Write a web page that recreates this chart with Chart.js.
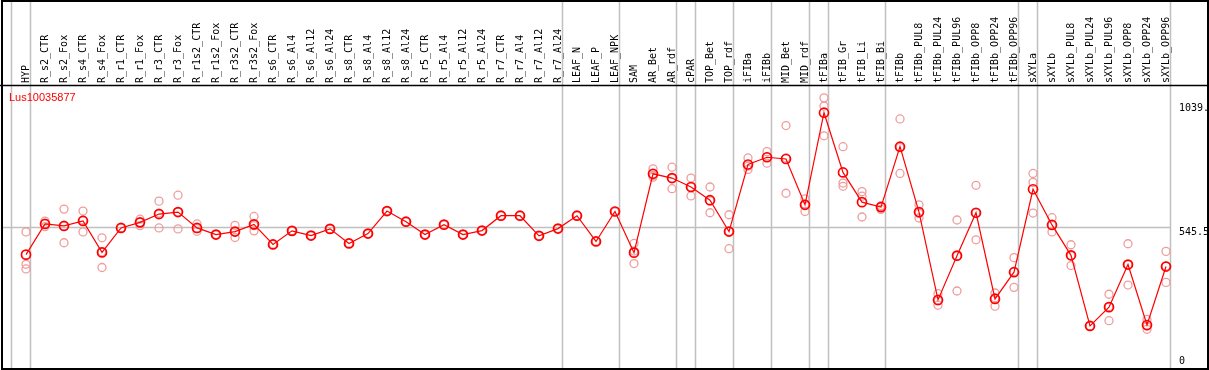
<!DOCTYPE html>
<html>
<head>
<meta charset="utf-8">
<script src="https://cdn.jsdelivr.net/npm/chart.js@4.4.1/dist/chart.umd.min.js"></script>
<style>
  html, body { margin: 0; padding: 0; background: #fff; }
  canvas { display: block; }
</style>
</head>
<body>
<canvas id="geneChart" width="1209" height="370"></canvas>
<script>
// sample names, one column each
var categories = ["HYP", "R_s2_CTR", "R_s2_Fox", "R_s4_CTR", "R_s4_Fox", "R_r1_CTR", "R_r1_Fox",
  "R_r3_CTR", "R_r3_Fox", "R_r1s2_CTR", "R_r1s2_Fox", "R_r3s2_CTR", "R_r3s2_Fox", "R_s6_CTR",
  "R_s6_Al4", "R_s6_Al12", "R_s6_Al24", "R_s8_CTR", "R_s8_Al4", "R_s8_Al12", "R_s8_Al24",
  "R_r5_CTR", "R_r5_Al4", "R_r5_Al12", "R_r5_Al24", "R_r7_CTR", "R_r7_Al4", "R_r7_Al12",
  "R_r7_Al24", "LEAF_N", "LEAF_P", "LEAF_NPK", "SAM", "AR_Bet", "AR_rdf", "cPAR", "TOP_Bet",
  "TOP_rdf", "iFIBa", "iFIBb", "MID_Bet", "MID_rdf", "tFIBa", "tFIB_Gr", "tFIB_Li", "tFIB_Bi",
  "tFIBb", "tFIBb_PUL8", "tFIBb_PUL24", "tFIBb_PUL96", "tFIBb_OPP8", "tFIBb_OPP24", "tFIBb_OPP96",
  "sXYLa", "sXYLb", "sXYLb_PUL8", "sXYLb_PUL24", "sXYLb_PUL96", "sXYLb_OPP8", "sXYLb_OPP24",
  "sXYLb_OPP96"];

// mean expression (joined line)
var meanValues = [435.0, 557.3, 549.4, 569.2, 444.0, 541.5, 563.6, 596.8, 604.7, 541.5, 515.1,
  526.9, 555.7, 475.6, 529.7, 511.1, 537.6, 479.6, 519.0, 608.6, 566.4, 515.1, 554.5, 515.1,
  530.9, 590.1, 590.1, 510.0, 538.8, 590.1, 487.5, 607.0, 442.9, 757.0, 740.1, 704.5, 652.0,
  526.9, 794.1, 823.0, 816.2, 633.5, 1000.6, 762.6, 644.2, 624.4, 865.2, 604.7, 254.6, 431.0,
  601.9, 258.5, 365.1, 695.5, 553.4, 432.2, 150.8, 225.8, 395.5, 154.7, 387.6];

// replicates (light circles)
var rep1 = [525.7, 568.4, 616.5, 608.6, 502.1, 541.5, 576.3, 648.1, 671.8, 557.3, 515.1,
  551.8, 587.3, 475.6, 529.7, 511.1, 537.6, 479.6, 519.0, 608.6, 566.4, 515.1, 554.5, 515.1,
  530.9, 590.1, 590.1, 510.0, 538.8, 590.1, 487.5, 607.0, 479.6, 776.8, 783.5, 740.1, 704.5,
  594.0, 820.2, 845.5, 949.3, 657.2, 1059.8, 865.2, 686.0, 630.7, 975.7, 633.5, 279.4, 573.1,
  711.3, 282.2, 423.1, 758.6, 582.2, 474.4, 150.8, 277.1, 478.4, 176.8, 448.0];
var rep2 = [396.7, 558.5, 549.0, 573.1, 446.4, 541.5, 563.6, 600.7, 604.7, 538.8, 515.1,
  525.7, 550.6, 475.6, 529.7, 511.1, 537.6, 479.6, 519.0, 608.6, 566.4, 515.1, 554.5, 515.1,
  530.9, 590.1, 590.1, 510.0, 538.8, 590.1, 487.5, 607.0, 449.2, 750.7, 738.9, 704.5, 649.3,
  528.1, 787.4, 824.1, 820.2, 636.3, 1027.0, 720.3, 667.8, 626.8, 861.2, 599.2, 250.6, 429.4,
  600.3, 263.7, 367.5, 723.1, 551.8, 430.6, 150.8, 228.1, 393.9, 149.6, 390.0];
var rep3 = [378.1, 546.7, 482.3, 525.7, 383.7, 541.5, 550.6, 541.5, 537.6, 528.1, 515.1,
  503.2, 529.7, 475.6, 529.7, 511.1, 537.6, 479.6, 519.0, 608.6, 566.4, 515.1, 554.5, 515.1,
  530.9, 590.1, 590.1, 510.0, 538.8, 590.1, 487.5, 607.0, 399.4, 744.0, 697.8, 669.0, 601.9,
  458.6, 774.4, 799.3, 679.7, 607.0, 908.6, 707.3, 585.0, 615.0, 758.6, 581.0, 233.7, 290.1,
  494.2, 229.7, 304.7, 600.7, 525.7, 391.5, 150.8, 171.7, 313.8, 137.4, 324.4];

// index of the first sample of every group (gray separators)
var groupStarts = [0, 1, 29, 32, 35, 36, 38, 40, 42, 43, 46, 53, 54, 61];

var yTickValues = [0, 545.5, 1039];
var yTickLabels = ["0", "545.5", "1039.0"];
var geneName = "Lus10035877";

var monoFont = "10px 'DejaVu Sans Mono', monospace";

var framePlugin = {
  id: 'frame',
  beforeDatasetsDraw: function (chart) {
    var ctx = chart.ctx;
    var x = chart.scales.x, y = chart.scales.y;
    var step = x.getPixelForValue(1) - x.getPixelForValue(0);
    ctx.save();
    ctx.strokeStyle = '#c0c0c0';
    ctx.lineWidth = 1.5;
    var lastX = 0;
    groupStarts.forEach(function (i) {
      var px = Math.round(x.getPixelForValue(i) - step * 0.79) + 0.5;
      lastX = px;
      ctx.beginPath();
      ctx.moveTo(px, 0);
      ctx.lineTo(px, chart.height);
      ctx.stroke();
    });
    var py = Math.round(y.getPixelForValue(yTickValues[1])) + 0.5;
    ctx.beginPath();
    ctx.moveTo(1, py);
    ctx.lineTo(lastX, py);
    ctx.stroke();
    ctx.restore();
  },
  afterDraw: function (chart) {
    var ctx = chart.ctx;
    var area = chart.chartArea;
    var x = chart.scales.x, y = chart.scales.y;
    ctx.save();
    // outer frame + header rule
    ctx.strokeStyle = '#000';
    ctx.lineWidth = 2;
    ctx.strokeRect(2, 1, chart.width - 3, chart.height - 2);
    ctx.lineWidth = 1.5;
    ctx.beginPath();
    ctx.moveTo(0, area.top + 0.5);
    ctx.lineTo(chart.width, area.top + 0.5);
    ctx.stroke();

    // sample names, rotated, reading upwards from the header rule
    ctx.fillStyle = '#000';
    ctx.font = monoFont;
    ctx.textAlign = 'left';
    ctx.textBaseline = 'middle';
    categories.forEach(function (name, i) {
      ctx.save();
      ctx.translate(x.getPixelForValue(i) + 0.5, area.top - 2);
      ctx.rotate(-Math.PI / 2);
      ctx.fillText(name, 0, 0);
      ctx.restore();
    });

    // gene name
    ctx.fillStyle = '#ff0000';
    ctx.font = "11px 'Liberation Sans', Arial, sans-serif";
    ctx.textBaseline = 'alphabetic';
    ctx.fillText(geneName, 9, 101);

    // value labels on the right
    ctx.fillStyle = '#000';
    ctx.font = monoFont;
    yTickValues.forEach(function (v, i) {
      var py = y.getPixelForValue(v);
      ctx.textBaseline = v === 0 ? 'alphabetic' : 'top';
      ctx.fillText(yTickLabels[i], area.right + 13, py);
    });
    ctx.restore();
  }
};

new Chart(document.getElementById('geneChart'), {
  type: 'line',
  data: {
    labels: categories,
    datasets: [{
      label: 'mean',
      data: meanValues,
      borderColor: '#ff0000',
      borderWidth: 1.2,
      pointRadius: 4.5,
      pointBorderWidth: 1.7,
      pointBorderColor: '#ff0000',
      pointBackgroundColor: 'rgba(0,0,0,0)',
      tension: 0,
      clip: false
    }, {
      label: 'rep1',
      data: rep1,
      showLine: false,
      pointRadius: 4,
      pointBorderWidth: 1.3,
      pointBorderColor: '#ef9c9c',
      pointBackgroundColor: 'rgba(0,0,0,0)',
      clip: false
    }, {
      label: 'rep2',
      data: rep2,
      showLine: false,
      pointRadius: 4,
      pointBorderWidth: 1.3,
      pointBorderColor: '#ef9c9c',
      pointBackgroundColor: 'rgba(0,0,0,0)',
      clip: false
    }, {
      label: 'rep3',
      data: rep3,
      showLine: false,
      pointRadius: 4,
      pointBorderWidth: 1.3,
      pointBorderColor: '#ef9c9c',
      pointBackgroundColor: 'rgba(0,0,0,0)',
      clip: false
    }]
  },
  options: {
    responsive: false,
    animation: false,
    layout: { padding: { left: 26, right: 0, top: 0, bottom: 3.5 } },
    plugins: { legend: { display: false }, tooltip: { enabled: false } },
    scales: {
      x: {
        type: 'category',
        position: 'top',
        offset: false,
        grid: { display: false, drawTicks: false },
        border: { display: false },
        ticks: { display: false, autoSkip: false },
        afterFit: function (scale) { scale.height = 85; }
      },
      y: {
        position: 'right',
        min: 0,
        max: 1111,
        grid: { display: false, drawTicks: false },
        border: { display: false },
        ticks: { display: false },
        afterFit: function (scale) { scale.width = 43; }
      }
    }
  },
  plugins: [framePlugin]
});
</script>
</body>
</html>
